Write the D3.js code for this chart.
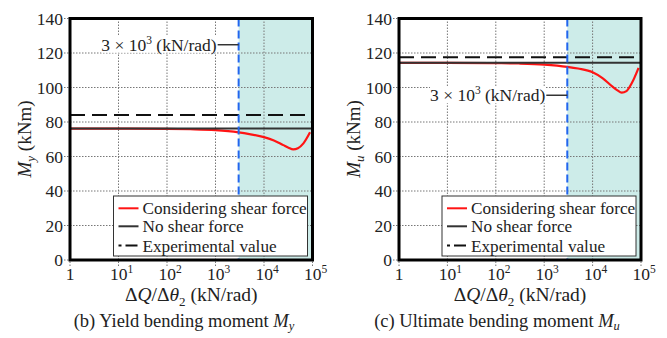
<!DOCTYPE html>
<html>
<head>
<meta charset="utf-8">
<script src="https://cdn.jsdelivr.net/npm/d3@7"></script>
<style>
  body { margin: 0; background: #fff; }
  svg { display: block; }
</style>
</head>
<body>
<svg width="667" height="338"></svg>
<script>
// values
const stiffness = [1, 10, 100, 300, 1000, 3000, 5000, 10000, 16000, 25000, 32000, 40000, 50000, 65000, 89000];
const myShear = [76.2, 76.2, 76.0, 75.8, 75.3, 74.0, 73.0, 71.2, 69.3, 66.6, 65.1, 64.1, 64.8, 67.6, 74.0];
const muShear = [114.3, 114.3, 114.1, 113.9, 113.3, 112.0, 111.0, 108.9, 105.5, 100.8, 98.5, 97.0, 97.9, 102.7, 111.4];
const noShear = [76.2, 114.3];
const experimental = [84.0, 117.5];
const boundary = 3000;
const xTicks = [1, 10, 100, 1000, 10000, 100000];
const yTicks = [0, 20, 40, 60, 80, 100, 120, 140];
const legendLabels = ['Considering shear force', 'No shear force', 'Experimental value'];

const svg = d3.select('svg')
  .attr('font-family', '"Liberation Serif", "DejaVu Serif", serif');

function panel(p) {
  const x = d3.scaleLog().domain([1, 1e5]).range([p.left, p.right]);
  const y = d3.scaleLinear().domain([0, 140]).range([260, 18.5]);
  const g = svg.append('g');

  // shaded zone past the boundary stiffness
  g.append('rect')
    .attr('x', x(boundary))
    .attr('y', y(140))
    .attr('width', x(1e5) - x(boundary))
    .attr('height', y(0) - y(140))
    .attr('fill', '#cdece9');

  // dotted grid, sticking out a little as ticks
  g.selectAll('.gy').data(yTicks).join('line')
    .attr('x1', p.left - 6).attr('x2', p.right)
    .attr('y1', d => y(d)).attr('y2', d => y(d))
    .attr('stroke', '#777').attr('stroke-width', 1).attr('stroke-dasharray', '1.5,1.5');
  g.selectAll('.gx').data(xTicks).join('line')
    .attr('x1', d => x(d)).attr('x2', d => x(d))
    .attr('y1', y(140)).attr('y2', y(0) + 6)
    .attr('stroke', '#777').attr('stroke-width', 1).attr('stroke-dasharray', '1.5,1.5');

  // tick labels
  g.selectAll('.ty').data(yTicks).join('text')
    .attr('x', p.left - 7).attr('y', d => y(d) + 6)
    .attr('text-anchor', 'end').attr('font-size', 17.5).attr('fill', '#222')
    .text(d => d);
  xTicks.forEach((d, i) => {
    const t = g.append('text')
      .attr('x', x(d) + (i ? 3 : 0)).attr('y', 280)
      .attr('text-anchor', 'middle').attr('font-size', 17.5).attr('fill', '#222');
    if (i === 0) {
      t.text('1');
    } else {
      t.append('tspan').text('10');
      t.append('tspan').attr('font-size', 11.5).attr('dy', -7).text(i);
    }
  });

  // experimental value
  g.append('line')
    .attr('x1', x(1)).attr('x2', x(1e5))
    .attr('y1', y(p.exp)).attr('y2', y(p.exp))
    .attr('stroke', '#111').attr('stroke-width', 2).attr('stroke-dasharray', '15,7');

  // considering shear force
  const line = d3.line()
    .x((d, i) => x(stiffness[i]))
    .y(d => y(d))
    .curve(d3.curveMonotoneX);
  g.append('path')
    .attr('d', line(p.values))
    .attr('fill', 'none').attr('stroke', '#ff1414').attr('stroke-width', 2.2);

  // no shear force
  g.append('line')
    .attr('x1', x(1)).attr('x2', x(1e5))
    .attr('y1', y(p.none)).attr('y2', y(p.none))
    .attr('stroke', '#333').attr('stroke-width', 2);

  // boundary stiffness
  g.append('line')
    .attr('x1', x(boundary)).attr('x2', x(boundary))
    .attr('y1', y(140)).attr('y2', y(0))
    .attr('stroke', '#2266ee').attr('stroke-width', 2).attr('stroke-dasharray', '8,4');

  // annotation of the boundary
  const annY = y(p.annAt);
  const annX = x(boundary) - 22;
  const ag = g.append('g');
  const bg = ag.append('rect').attr('fill', '#fff');
  const ann = ag.append('text')
    .attr('x', annX).attr('y', annY + 6)
    .attr('text-anchor', 'end').attr('font-size', 17.5).attr('fill', '#222');
  ann.append('tspan').text('3 × 10');
  ann.append('tspan').attr('font-size', 11.5).attr('dy', -7).text('3');
  ann.append('tspan').attr('dy', 7).text(' (kN/rad)');
  const bb = ann.node().getBBox();
  bg.attr('x', bb.x).attr('y', bb.y + 2).attr('width', bb.width).attr('height', bb.height - 4);
  ag.append('line')
    .attr('x1', annX + 1).attr('x2', x(boundary))
    .attr('y1', annY).attr('y2', annY)
    .attr('stroke', '#333').attr('stroke-width', 1.5);

  // legend
  const lw = 194, lh = 60;
  const lx = p.right - 5 - lw, ly = 196;
  g.append('rect')
    .attr('x', lx).attr('y', ly).attr('width', lw).attr('height', lh)
    .attr('fill', '#fff').attr('stroke', '#333').attr('stroke-width', 1);
  const rows = [18.3, 36.3, 55.5];
  const styles = [['#ff1414', null], ['#333', null], ['#111', '3,4,12']];
  legendLabels.forEach((s, i) => {
    g.append('line')
      .attr('x1', lx + 5).attr('x2', lx + 25)
      .attr('y1', ly + rows[i] - 6).attr('y2', ly + rows[i] - 6)
      .attr('stroke', styles[i][0]).attr('stroke-width', 2)
      .attr('stroke-dasharray', styles[i][1]);
    g.append('text')
      .attr('x', lx + 29).attr('y', ly + rows[i])
      .attr('font-size', 17.2).attr('fill', '#222')
      .text(s);
  });

  // frame
  g.append('rect')
    .attr('x', p.left).attr('y', y(140))
    .attr('width', p.right - p.left).attr('height', y(0) - y(140))
    .attr('fill', 'none').attr('stroke', '#000').attr('stroke-width', 3);

  // axis titles
  const yt = g.append('text')
    .attr('transform', `translate(${p.left - 39},139) rotate(-90)`)
    .attr('text-anchor', 'middle').attr('font-size', 19).attr('fill', '#222');
  yt.append('tspan').attr('font-style', 'italic').text('M');
  yt.append('tspan').attr('font-style', 'italic').attr('font-size', 13).attr('dy', 4).text(p.sub);
  yt.append('tspan').attr('dy', -4).text(' (kNm)');

  const xt = g.append('text')
    .attr('x', (p.left + p.right) / 2).attr('y', 301)
    .attr('text-anchor', 'middle').attr('font-size', 19.5).attr('fill', '#222');
  xt.append('tspan').text('Δ');
  xt.append('tspan').attr('font-style', 'italic').text('Q');
  xt.append('tspan').text('/Δ');
  xt.append('tspan').attr('font-style', 'italic').text('θ');
  xt.append('tspan').attr('font-size', 13).attr('dy', 5).text('2');
  xt.append('tspan').attr('dy', -5).text(' (kN/rad)');

  // caption
  const cap = g.append('text')
    .attr('x', p.capX).attr('y', 327)
    .attr('text-anchor', 'middle').attr('font-size', 18.5).attr('fill', '#222');
  cap.append('tspan').text(p.caption + ' ');
  cap.append('tspan').attr('font-style', 'italic').text('M');
  cap.append('tspan').attr('font-style', 'italic').attr('font-size', 12.5).attr('dy', 3).text(p.sub);
}

panel({ left: 70, right: 312.5, values: myShear, none: noShear[0], exp: experimental[0],
        annAt: 124.8, sub: 'y', caption: '(b) Yield bending moment', capX: 184 });
panel({ left: 399, right: 641, values: muShear, none: noShear[1], exp: experimental[1],
        annAt: 95.5, sub: 'u', caption: '(c) Ultimate bending moment', capX: 497 });
</script>
</body>
</html>
